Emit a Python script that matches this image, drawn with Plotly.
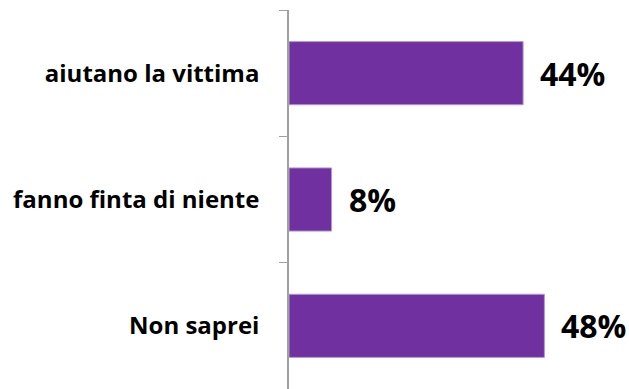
import plotly.graph_objects as go

categories = ["aiutano la vittima", "fanno finta di niente", "Non saprei"]
values = [44, 8, 48]
labels = ["44%", "8%", "48%"]

fig = go.Figure()
fig.add_trace(go.Bar(
    y=categories, x=values, orientation="h", width=0.5,
    marker=dict(color="#7030A0", line=dict(color="#B49AD0", width=1)),
    hoverinfo="skip",
))
for c, v, t in zip(categories, values, labels):
    fig.add_annotation(x=v, y=c, text=t, showarrow=False, xanchor="left",
                       xshift=15, yshift=0,
                       font=dict(family="Open Sans", size=32, color="#000000", weight="bold"))

fig.update_layout(
    width=629, height=389,
    margin=dict(l=289, r=0, t=10, b=0),
    paper_bgcolor="white", plot_bgcolor="white",
    showlegend=False,
    bargap=0.5,
    xaxis=dict(range=[0, 63.9], visible=False, fixedrange=True),
    yaxis=dict(autorange="reversed", type="category", tickson="boundaries",
               ticks="outside", ticklen=8, tickcolor="#A0A0A0", tickwidth=1,
               showline=True, linecolor="#A0A0A0", linewidth=1.5,
               showgrid=False, ticklabelstandoff=23,
               tickfont=dict(family="Open Sans", size=24, color="#000000", weight="bold")),
)
fig.write_html("out.html", config={"displayModeBar": False},
               post_script="document.body.style.margin='0';")
